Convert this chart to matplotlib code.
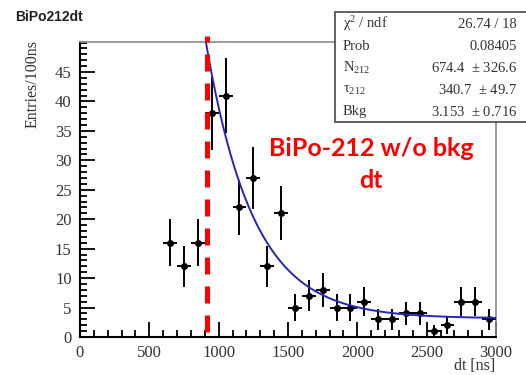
import matplotlib.pyplot as plt
import numpy as np
from matplotlib.patches import Rectangle
from matplotlib.ticker import MultipleLocator, FixedLocator

plt.rcParams['font.family'] = ['Liberation Serif', 'DejaVu Serif']
plt.rcParams['mathtext.fontset'] = 'stix'
plt.rcParams['mathtext.default'] = 'regular'

# histogram contents, 100 ns bins
bin_centers = [650, 750, 850, 950, 1050, 1150, 1250, 1350, 1450, 1550, 1650, 1750,
               1850, 1950, 2050, 2150, 2250, 2350, 2450, 2550, 2650, 2750, 2850, 2950]
counts = [16, 12, 16, 38, 41, 22, 27, 12, 21, 5, 7, 8,
          5, 5, 6, 3, 3, 4, 4, 1, 2, 6, 6, 3]

# fit parameters
N212 = 674.4
tau212 = 340.7
bkg = 3.153
fit_range = [900, 3000]
cut_dt = 919

stat_names = [r'$\chi^{2}$ / ndf', 'Prob', 'N$_{212}$', r'$\tau_{212}$', 'Bkg']
stat_values = ['26.74 / 18', '0.08405', '674.4  $\\pm$ 326.6', '340.7  $\\pm$ 49.7',
               '3.153  $\\pm$ 0.716']
y_major = [0, 5, 10, 15, 20, 25, 30, 35, 40, 45]

fig = plt.figure(figsize=(5.26, 3.75), dpi=100)
W, H = 526., 375.
ax = fig.add_axes([80 / W, 1 - 337 / H, 416 / W, 295 / H])

x = np.array(bin_centers)
y = np.array(counts)
ax.errorbar(x, y, xerr=50, yerr=np.sqrt(y), fmt='o', color='black', ms=4,
            elinewidth=1.4, capsize=0, zorder=3)

t = np.linspace(fit_range[0], fit_range[1], 400)
ax.plot(t, N212 * np.exp(-t / tau212) + bkg, color='#2626b8', lw=1.4, zorder=4)

ax.plot([cut_dt, cut_dt], [0.85, 51.2], color='red', lw=3.6,
        linestyle=(0, (3.4, 2.4)), dash_capstyle='butt', clip_on=False, zorder=5)

ax.set_xlim(0, 3000)
ax.set_ylim(0, 50.1)
ax.xaxis.set_major_locator(MultipleLocator(500))
ax.xaxis.set_minor_locator(MultipleLocator(100))
ax.yaxis.set_major_locator(FixedLocator(y_major))
ax.yaxis.set_minor_locator(MultipleLocator(1))
ax.tick_params(which='both', direction='in', top=False, right=False, width=1.3,
               labelsize=12, labelcolor='#333333')
ax.tick_params(which='major', length=11, pad=6)
ax.tick_params(which='minor', length=5)
ax.spines['left'].set_linewidth(1.5)
ax.spines['bottom'].set_linewidth(1.5)
ax.spines['top'].set_color('#8a8a8a')
ax.spines['right'].set_color('#8a8a8a')
ax.spines['top'].set_linewidth(1.2)
ax.spines['right'].set_linewidth(1.2)

fig.text(33 / W, 1 - 40 / H, 'Entries/100ns', rotation=90, ha='center', va='top',
         fontsize=11.5, color='#333333')
fig.text(495 / W, 1 - 366 / H, 'dt [ns]', ha='right', va='center',
         fontsize=11.5, color='#333333')
fig.text(15 / W, 1 - 17 / H, 'BiPo212dt', ha='left', va='center',
         family='Liberation Sans', fontweight='bold', fontsize=10, color='#222222')

# stats box
fig.patches.append(Rectangle((335 / W, 1 - 122 / H), 200 / W, 110 / H,
                             transform=fig.transFigure, facecolor='white',
                             edgecolor='#555555', lw=1.3, zorder=10))
row_y = [24, 46, 68, 90, 112]
for name, val, ry in zip(stat_names, stat_values, row_y):
    fig.text(343 / W, 1 - ry / H, name, ha='left', va='center', zorder=11,
             fontsize=10.5, color='#333333')
    fig.text(517 / W, 1 - ry / H, val, ha='right', va='center', zorder=11,
             fontsize=10.5, color='#333333')

fig.text(371 / W, 1 - 148 / H, 'BiPo-212 w/o bkg', ha='center', va='center',
         family='Lato', fontweight='bold', fontsize=18, color='#ff0000', zorder=12)
fig.text(371 / W, 1 - 180 / H, 'dt', ha='center', va='center',
         family='Lato', fontweight='bold', fontsize=18, color='#ff0000', zorder=12)

fig.savefig('out.png', dpi=100)
